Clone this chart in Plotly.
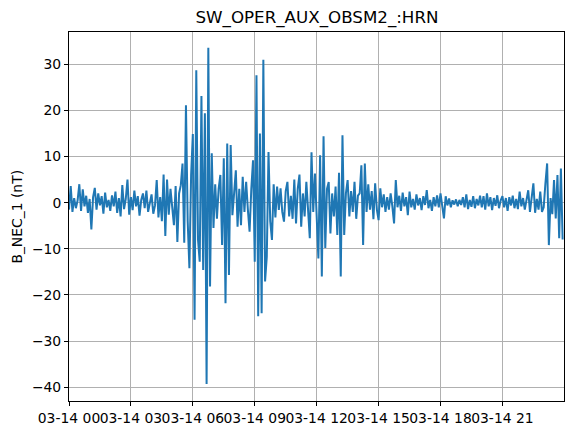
import pandas as pd
import plotly.graph_objects as go

# B_NEC_1 (nT), 5-minute samples, 2024-03-14 00:00 .. 23:55
b_nec_1_00_06 = [
    -1.5, 3.6, -2.0, 1.0, -1.2, 0.5, 4.0, -1.8, 2.9, -0.8, 1.5, -2.2,
    0.8, -5.8, 1.2, 3.2, -1.5, 2.0, -0.6, 1.4, -2.4, 2.2, -1.0, 0.6,
    -1.8, 1.6, -0.8, 2.4, -2.2, 1.0, -3.0, 3.8, -1.4, 0.8, 5.0, -2.6,
    1.2, -1.6, 2.6, -0.8, 1.4, -2.8, 0.6, 2.0, -1.2, 2.6, -2.0, 0.4,
    1.8, -2.4, -0.6, 4.9, -3.2, 1.2, -4.0, 6.1, -7.2, 5.0, -2.6, 3.0,
    -1.5, -4.9, 3.6, -8.5, 2.0, 3.8, 8.5, -8.7, 21.1, -4.0, -14.2, 6.0,
]
b_nec_1_06_12 = [
    14.9, -25.4, 28.7, -8.0, -12.8, 23.1, -14.6, 19.4, -39.3, 33.6, -18.2, 10.7,
    -5.5, 4.0, -3.5, 3.0, 6.0, -9.2, 9.6, -21.8, 12.8, -15.7, 12.5, -2.7,
    2.0, 7.0, -5.2, 3.0, -4.9, 5.6, -2.0, 4.5, -1.5, -6.3, 3.0, 9.2,
    -12.8, 27.6, -24.6, 15.0, -24.0, 31.0, -17.1, -11.7, 11.0, -4.0, -8.1, 4.0,
    -3.2, 3.5, -1.6, 3.1, -2.0, -4.1, 2.5, 4.5, -3.0, 1.5, -3.5, 5.0,
    -4.5, 3.0, 6.1, -5.2, 2.0, -3.0, 4.5, -1.0, -7.7, 10.9, -2.0, 6.3,
]
b_nec_1_12_18 = [
    -4.0, -12.1, 10.3, -16.0, 14.4, -9.8, 3.0, 4.5, -6.7, 2.0, -3.0, 3.5,
    -7.0, 6.5, -16.0, 14.6, -7.0, 2.0, 4.9, -3.0, 2.5, -2.0, 4.5, -3.5,
    1.5, 2.0, 8.1, -9.2, 8.5, -2.0, 4.0, -1.5, 2.5, -3.6, 4.2, -1.5,
    -3.8, 3.1, -1.0, 1.8, -2.0, 1.2, -1.5, 2.0, -0.8, -4.5, 4.9, -1.0,
    1.5, -1.8, 2.2, -0.8, 1.2, -2.7, 2.4, -1.0, 0.8, -1.5, 1.8, -0.6,
    1.0, -1.6, 1.4, -0.5, 2.7, -1.2, 0.6, -1.8, 1.2, -0.8, 1.6, -1.0,
]
b_nec_1_18_24 = [
    2.0, -1.2, -3.4, 1.4, -0.6, 0.9, -1.0, 0.5, -0.4, 0.7, -0.8, 0.6,
    -0.5, 1.2, -1.0, 1.8, -1.4, 0.6, -0.9, 1.4, -1.2, 0.8, -0.6, 1.5,
    -1.0, 1.4, -1.5, 2.0, -0.8, 1.2, -1.6, 1.0, -0.7, 1.6, -1.2, 0.5,
    1.4, -1.0, 1.0, -1.8, 1.2, -0.6, 1.5, -1.2, 0.8, -1.4, 2.4, -0.8,
    1.0, -1.5, 0.8, 2.7, -2.0, 1.2, 4.2, -2.2, 0.8, -1.5, 2.4, -2.0,
    -1.0, 4.2, 8.5, -9.2, 1.0, -2.5, 4.9, -3.4, 6.0, -7.7, 7.4, -8.0,
]
b_nec_1 = b_nec_1_00_06 + b_nec_1_06_12 + b_nec_1_12_18 + b_nec_1_18_24
times = pd.date_range("2024-03-14 00:00", periods=len(b_nec_1), freq="5min")

title_text = "SW_OPER_AUX_OBSM2_:HRN"
y_label = "B_NEC_1 (nT)"
y_ticks = [-40, -30, -20, -10, 0, 10, 20, 30]

font_family = "DejaVu Sans"

fig = go.Figure(
    go.Scatter(x=times, y=b_nec_1, mode="lines",
               line=dict(color="#1f77b4", width=2), showlegend=False)
)

axis_common = dict(
    showline=True, mirror=True, linecolor="black", linewidth=1,
    showgrid=True, gridcolor="#b0b0b0", gridwidth=1,
    ticks="outside", ticklen=4, tickwidth=1, tickcolor="black",
    zeroline=False,
    tickfont=dict(family=font_family, size=13.9, color="black"),
)

fig.update_xaxes(
    **axis_common,
    range=["2024-03-14 00:00", "2024-03-14 23:59"],
    tick0="2024-03-14 00:00", dtick=3 * 3600 * 1000,
    tickformat="%m-%d %H", tickangle=0,
)
fig.update_yaxes(
    **axis_common,
    range=[-43.0, 37.0],
    tickvals=y_ticks,
)

fig.update_layout(
    width=574, height=435,
    margin=dict(l=69, r=9, t=32, b=32),
    paper_bgcolor="white", plot_bgcolor="white",
    title=dict(text=title_text, x=(69 + 248) / 574, xanchor="center",
               y=1 - 17 / 435, yanchor="middle", yref="container",
               font=dict(family=font_family, size=16.7, color="black")),
    annotations=[dict(
        text=y_label, textangle=-90, showarrow=False,
        xref="paper", yref="paper", x=(16 - 69) / 496, y=0.5,
        xanchor="center", yanchor="middle",
        font=dict(family=font_family, size=13.9, color="black"),
    )],
)

fig.write_html("out.html")
